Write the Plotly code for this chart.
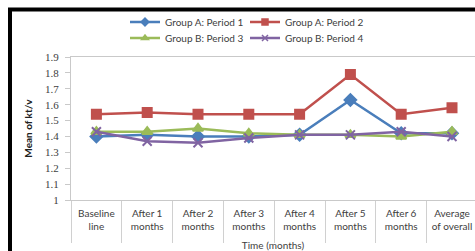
import plotly.graph_objects as go

categories = ["Baseline<br>line", "After 1<br>months", "After 2<br>months", "After 3<br>months",
              "After 4<br>months", "After 5<br>months", "After 6<br>months", "Average<br>of overall"]
period1 = [1.40, 1.41, 1.40, 1.40, 1.41, 1.63, 1.42, 1.42]
period2 = [1.54, 1.55, 1.54, 1.54, 1.54, 1.79, 1.54, 1.58]
period3 = [1.43, 1.43, 1.45, 1.42, 1.41, 1.41, 1.40, 1.43]
period4 = [1.43, 1.37, 1.36, 1.39, 1.41, 1.41, 1.43, 1.40]
y_ticks = [1, 1.1, 1.2, 1.3, 1.4, 1.5, 1.6, 1.7, 1.8, 1.9]

W, H = 475, 251
ML, MR, MT, MB = 71, 0, 57, 51
PW, PH = W - ML - MR, H - MT - MB
CAT_W = 50.8

def px_x(p):
    return (p - ML) / PW

def px_y(p):
    return (H - MB - p) / PH

series = [
    ("Group A: Period 1", period1, "#4A7EBB", "diamond", 9, "legend"),
    ("Group A: Period 2", period2, "#C0504D", "square", 9, "legend"),
    ("Group B: Period 3", period3, "#9BBB59", "triangle-up", 9, "legend2"),
    ("Group B: Period 4", period4, "#8064A2", "x-thin", 9, "legend2"),
]

fig = go.Figure()
for name, vals, col, sym, sz, leg in series:
    fig.add_trace(go.Scatter(
        x=categories, y=vals, name=name, mode="lines+markers",
        line=dict(color=col, width=2.5),
        marker=dict(symbol=sym, size=sz, color=col, line=dict(color=col, width=2)),
        showlegend=False,
    ))
# legend entries with smaller symbols
for name, vals, col, sym, sz, leg in series:
    fig.add_trace(go.Scatter(
        x=[None], y=[None], name=name, mode="lines+markers",
        line=dict(color=col, width=2.5),
        marker=dict(symbol=sym, size=6, color=col, line=dict(color=col, width=1.5)),
        legend=leg, showlegend=True,
    ))

font_sans = "Lato, 'Open Sans', sans-serif"
grey = "#404040"

legend_common = dict(orientation="h", xanchor="left", yanchor="middle",
                     font=dict(family=font_sans, size=10, color=grey),
                     itemwidth=30, entrywidth=75, bgcolor="rgba(0,0,0,0)",
                     tracegroupgap=0, traceorder="normal")

fig.update_layout(
    width=W, height=H,
    margin=dict(l=ML, r=MR, t=MT, b=MB, pad=0, autoexpand=False),
    paper_bgcolor="white", plot_bgcolor="white",
    showlegend=True,
    legend=dict(x=px_x(125), y=px_y(22), **legend_common),
    legend2=dict(x=px_x(125), y=px_y(38), **legend_common),
    xaxis=dict(
        type="category", range=[-0.5, -0.5 + PW / CAT_W], automargin=False,
        showline=True, linecolor="#C9C9C9", linewidth=1, mirror=True,
        showgrid=False, zeroline=False,
        ticks="outside", tickson="boundaries", ticklen=42, tickcolor="#D0D0D0",
        ticklabelstandoff=4,
        tickfont=dict(family=font_sans, size=10, color=grey),
        title=dict(text="Time (months)", font=dict(family=font_sans, size=10, color=grey), standoff=16),
    ),
    yaxis=dict(
        range=[1, 1.9], tickvals=y_ticks, ticktext=[f"{v:g}" for v in y_ticks],
        automargin=False,
        showline=True, linecolor="#C9C9C9", linewidth=1,
        showgrid=False, zeroline=False,
        ticks="outside", ticklen=5, tickcolor="#C9C9C9",
        ticklabelstandoff=4,
        tickfont=dict(family="'Liberation Serif', serif", size=11, color=grey),
        title=dict(text="<b>Mean of kt/v</b>", font=dict(family=font_sans, size=10, color="#202020"), standoff=10),
    ),
    shapes=[
        dict(type="rect", xref="paper", yref="paper", x0=px_x(10), x1=px_x(W + 20),
             y0=px_y(9.5), y1=px_y(H + 20), line=dict(color="black", width=4),
             fillcolor="rgba(0,0,0,0)", layer="above"),
    ],
)

fig.write_html("out.html", config={"displayModeBar": False},
               post_script="document.body.style.margin='0';document.body.style.overflow='hidden';")
